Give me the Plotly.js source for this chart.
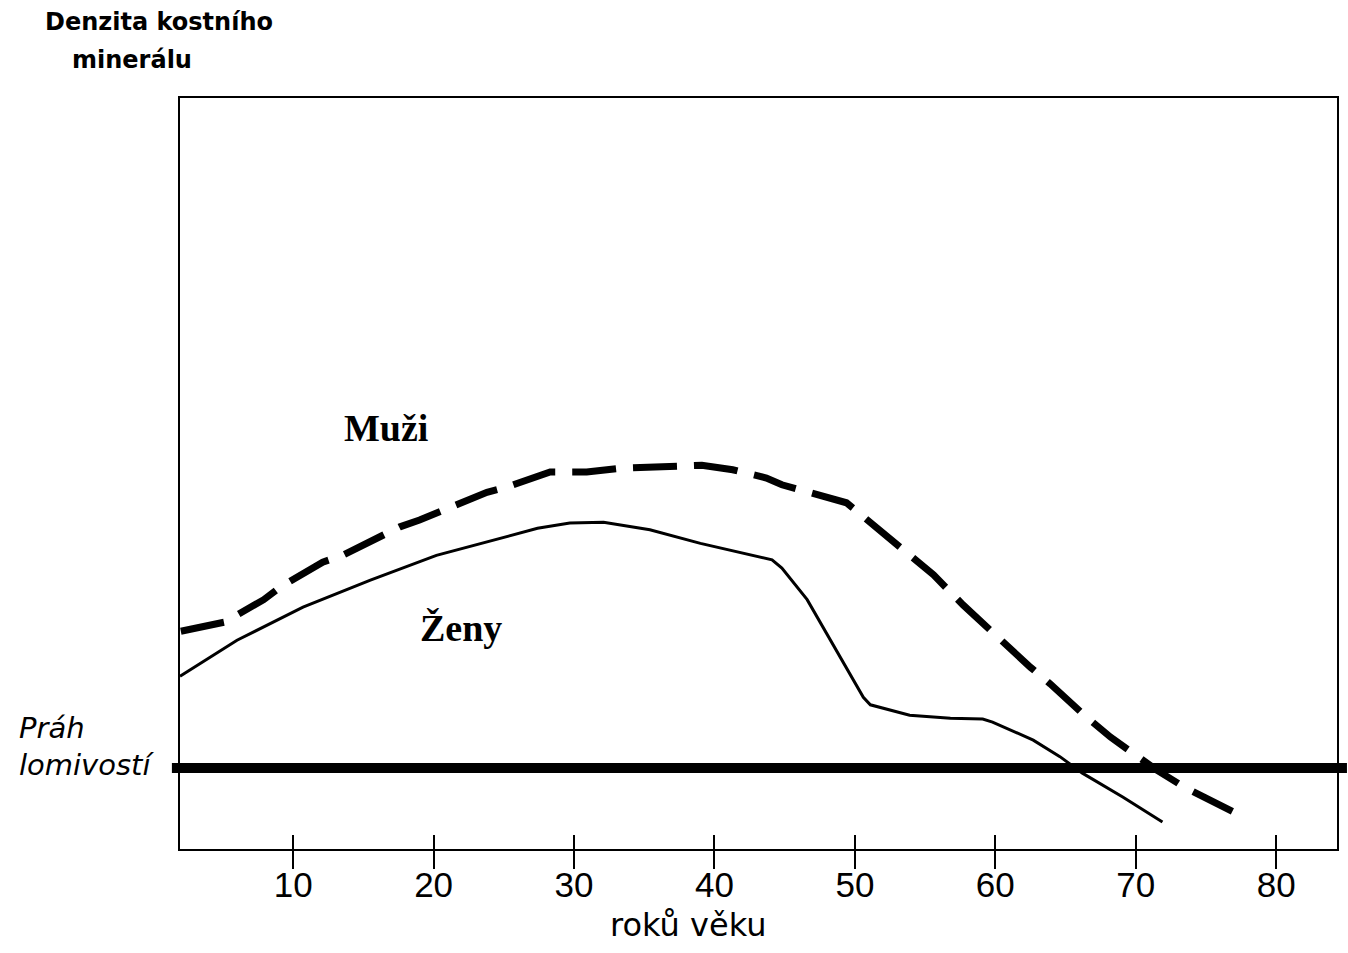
<!DOCTYPE html>
<html>
<head>
<meta charset="utf-8">
<script src="https://cdn.plot.ly/plotly-3.0.1.min.js"></script>
<style>html,body{margin:0;padding:0;background:#fff;}#chart{width:1348px;height:953px;}</style>
</head>
<body>
<div id="chart"></div>
<script>
// ---- data (ages in years, density in relative units 0-100) ----
const ageTicks = [10, 20, 30, 40, 50, 60, 70, 80];
const ageTickLabels = ['10', '20', '30', '40', '50', '60', '70', '80'];

const ageMuzi = [2.0, 3.7, 5.1, 7.9, 9.1, 12.1, 13.5, 17.6, 19.0, 23.8, 25.2, 28.3, 30.9, 33.3, 37.5, 39.1, 41.3, 43.7, 44.8, 49.4,
                 50.7, 52.7, 54.6, 55.6, 57.7, 59.8, 60.8, 62.5, 63.9, 64.8, 66.4, 68.2, 69.4, 70.7, 71.5, 73.4, 75.3, 77.1];
const densMuzi = [29.0, 29.6, 30.2, 33.2, 34.9, 38.2, 39.1, 42.9, 43.8, 47.5, 48.2, 50.2, 50.2, 50.7, 51.1, 51.1, 50.5, 49.4, 48.5, 46.1,
                  44.1, 41.0, 38.1, 36.5, 32.5, 28.8, 26.9, 24.2, 22.0, 20.4, 17.7, 14.9, 13.2, 11.6, 10.5, 8.3, 6.4, 4.8];

const ageZeny = [1.94, 6.0, 10.7, 15.5, 20.2, 24.9, 27.4, 29.7, 32.1, 35.4, 39.0, 44.1, 44.8, 46.6, 48.4, 50.6, 51.1, 53.9, 56.8, 59.1,
                 59.8, 62.7, 64.6, 66.2, 69.1, 71.9];
const densZeny = [23.0, 27.8, 32.2, 35.8, 39.1, 41.5, 42.7, 43.4, 43.5, 42.5, 40.7, 38.5, 37.4, 33.2, 27.4, 20.2, 19.2, 17.8, 17.4, 17.3,
                  16.9, 14.5, 12.3, 10.1, 6.9, 3.6];

const fractureThreshold = 10.8;

const labelMuzi = 'Muži';
const labelZeny = 'Ženy';
const yTitleLines = ['Denzita kostního', 'minerálu'];
const thresholdLines = ['Práh', 'lomivostí'];
const xTitle = 'roků věku';

// ---- traces ----
const traces = [
  {
    x: ageMuzi, y: densMuzi, name: labelMuzi, type: 'scatter', mode: 'lines',
    line: {color: '#000', width: 7, dash: '44px,17px'}, xaxis: 'x', yaxis: 'y', hoverinfo: 'x+y+name'
  },
  {
    x: ageZeny, y: densZeny, name: labelZeny, type: 'scatter', mode: 'lines',
    line: {color: '#000', width: 3}, xaxis: 'x2', yaxis: 'y', hoverinfo: 'x+y+name'
  }
];

const sans = 'DejaVu Sans, Arial, sans-serif';
const serif = 'Liberation Serif, Times New Roman, serif';

const layout = {
  width: 1348, height: 953,
  margin: {l: 180, r: 11, t: 98, b: 104, pad: 0},
  paper_bgcolor: '#fff', plot_bgcolor: '#fff',
  showlegend: false,
  xaxis: {
    range: [1.94, 84.33], tickvals: ageTicks, ticktext: ageTickLabels,
    ticks: 'outside', ticklen: 18, tickwidth: 2, tickcolor: '#000',
    ticklabelstandoff: -14,
    showline: true, linewidth: 2, linecolor: '#000', mirror: true,
    showgrid: false, zeroline: false,
    tickfont: {family: 'Liberation Sans, Arial, sans-serif', size: 35, color: '#000'}
  },
  xaxis2: {
    overlaying: 'x', matches: 'x', anchor: 'y', side: 'bottom',
    range: [1.94, 84.33], tickvals: ageTicks,
    ticks: 'inside', ticklen: 14, tickwidth: 2, tickcolor: '#000',
    showticklabels: false, showline: false, showgrid: false, zeroline: false
  },
  yaxis: {
    range: [0, 100], showticklabels: false, ticks: '',
    showline: true, linewidth: 2, linecolor: '#000', mirror: true,
    showgrid: false, zeroline: false
  },
  shapes: [
    {type: 'line', xref: 'paper', yref: 'y', x0: -0.007, x1: 1.0086, y0: fractureThreshold, y1: fractureThreshold,
     line: {color: '#000', width: 10}}
  ],
  annotations: [
    {text: yTitleLines[0], xref: 'paper', yref: 'paper', x: -0.1184, y: 1.101, xanchor: 'left', yanchor: 'middle',
     showarrow: false, font: {family: sans, size: 24, color: '#000', weight: 'bold'}},
    {text: yTitleLines[1], xref: 'paper', yref: 'paper', x: -0.0951, y: 1.0506, xanchor: 'left', yanchor: 'middle',
     showarrow: false, font: {family: sans, size: 24, color: '#000', weight: 'bold'}},
    {text: thresholdLines[0], xref: 'paper', yref: 'paper', x: -0.1409, y: 0.1611, xanchor: 'left', yanchor: 'middle',
     showarrow: false, font: {family: sans, size: 29, color: '#000', style: 'italic'}},
    {text: thresholdLines[1], xref: 'paper', yref: 'paper', x: -0.1409, y: 0.1119, xanchor: 'left', yanchor: 'middle',
     showarrow: false, font: {family: sans, size: 29, color: '#000', style: 'italic'}},
    {text: labelMuzi, xref: 'x', yref: 'y', x: 16.6, y: 56.1, xanchor: 'center', yanchor: 'middle',
     showarrow: false, font: {family: serif, size: 38, color: '#000', weight: 'bold'}},
    {text: labelZeny, xref: 'x', yref: 'y', x: 21.95, y: 29.4, xanchor: 'center', yanchor: 'middle',
     showarrow: false, font: {family: serif, size: 38, color: '#000', weight: 'bold'}},
    {text: xTitle, xref: 'paper', yref: 'paper', x: 0.439, y: -0.1012, xanchor: 'center', yanchor: 'middle',
     showarrow: false, font: {family: sans, size: 32, color: '#000'}}
  ]
};

Plotly.newPlot('chart', traces, layout, {displayModeBar: false, staticPlot: true});
</script>
</body>
</html>
